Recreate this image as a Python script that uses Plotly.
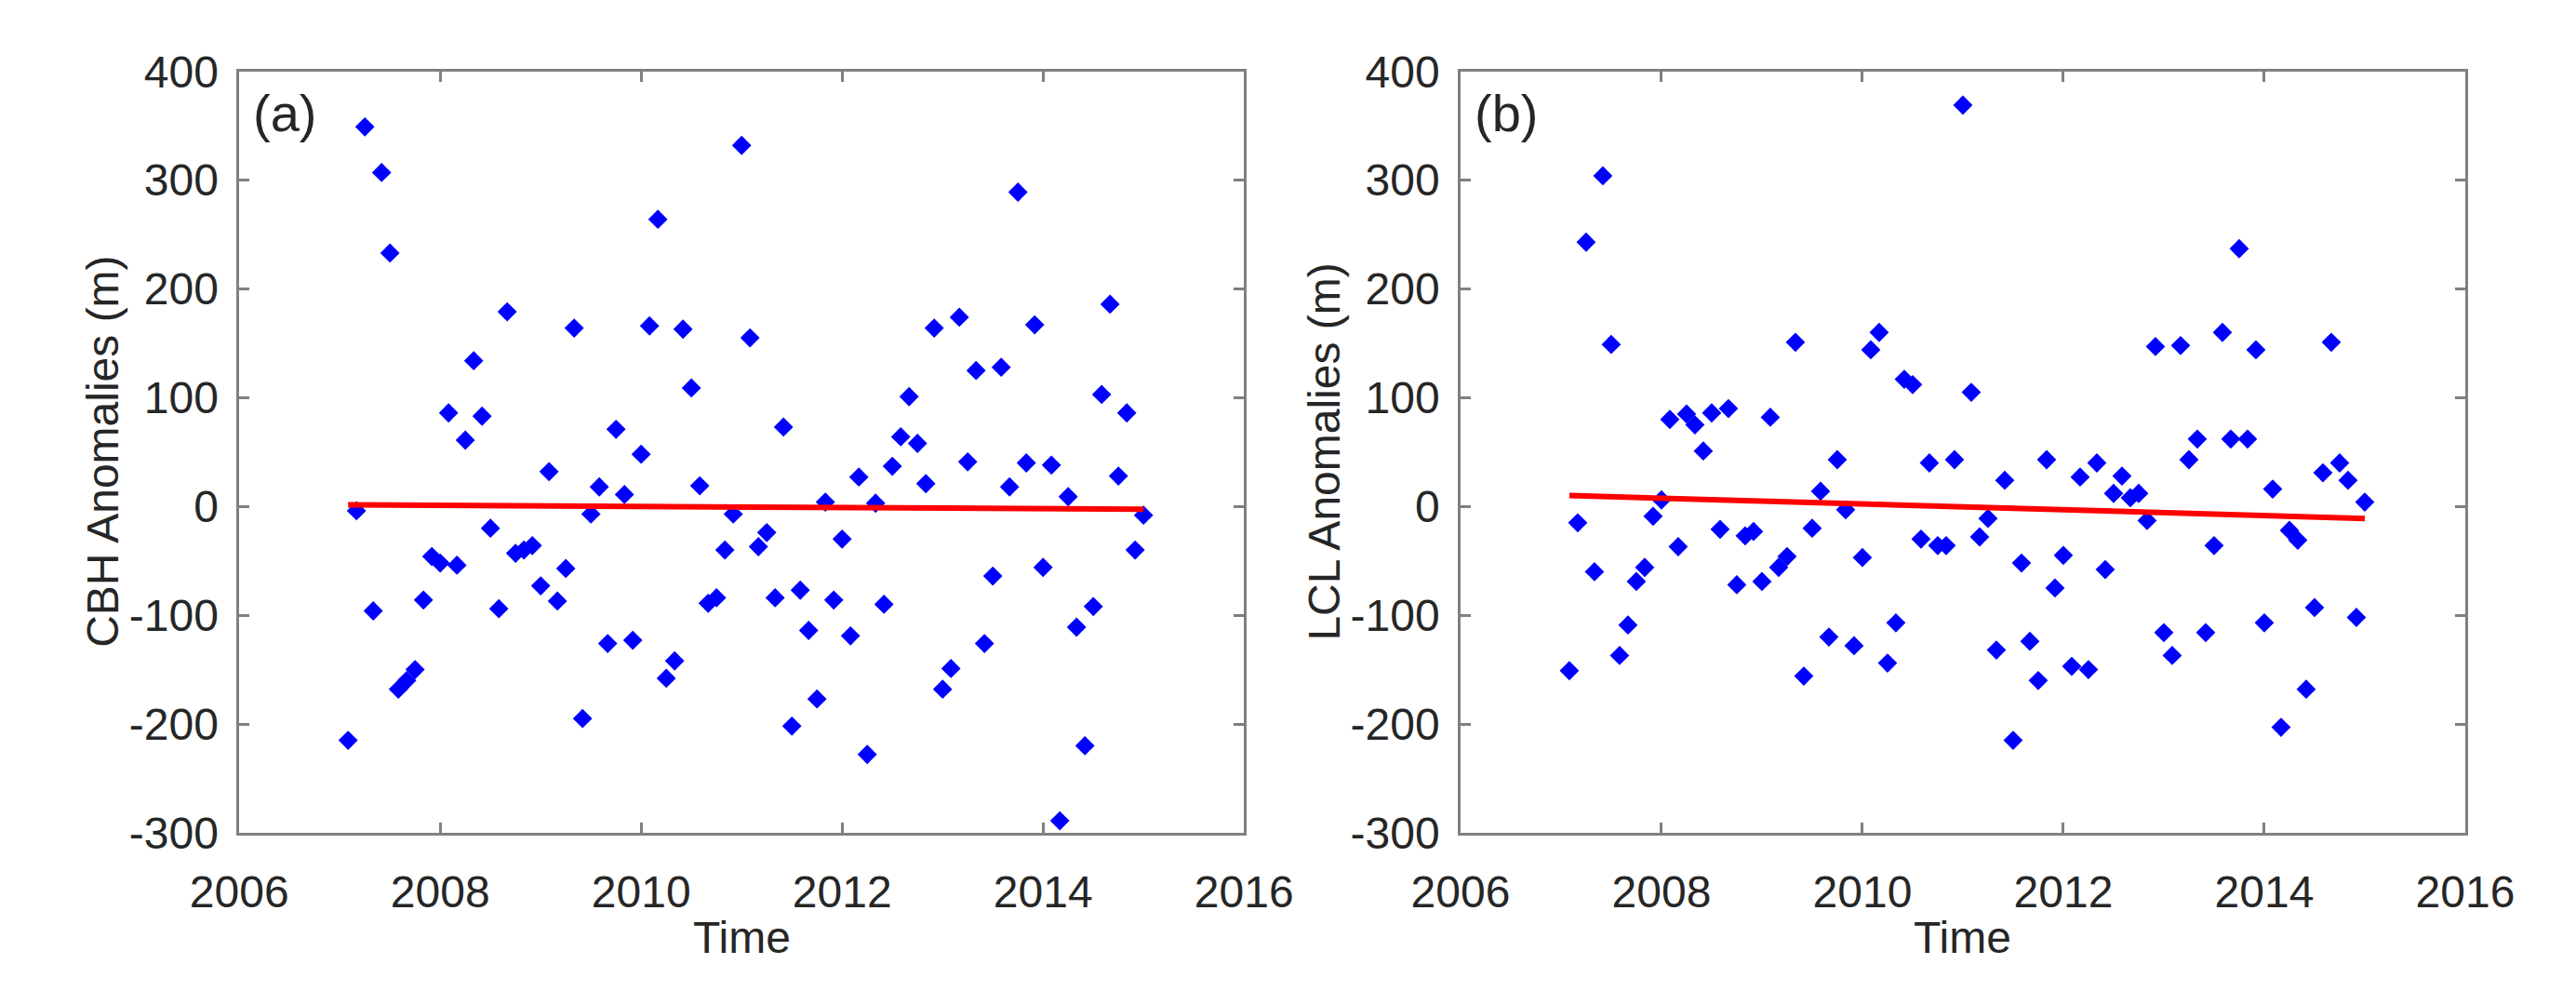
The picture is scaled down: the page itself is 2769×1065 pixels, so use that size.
import plotly.graph_objects as go

# monthly anomalies, Feb 2007 .. Jan 2015 (96 months)
start_year = 2007
n_months = 96
time = [start_year + k / 12 for k in range(1, n_months + 1)]

cbh_anom = [
    -215, -4, 349, -96, 307, 233, -168, -160, -150, -86, -46, -52,
    86, -54, 61, 134, 83, -20, -94, 179, -43, -40, -36, -73,
    32, -87, -57, 164, -195, -7, 18, -126, 71, 11, -123, 48,
    166, 264, -158, -142, 163, 109, 19, -89, -84, -40, -7, 332,
    155, -37, -24, -84, 73, -202, -77, -114, -177, 4, -86, -30,
    -119, 27, -228, 3, -90, 37, 64, 101, 58, 21, 164, -168,
    -149, 174, 41, 125, -126, -64, 128, 18, 289, 40, 167, -56,
    38, -289, 9, -111, -220, -92, 103, 186, 28, 86, -40, -8,
]

lcl_anom = [
    -151, -15, 243, -60, 304, 149, -137, -109, -69, -56, -9, 6,
    80, -37, 85, 75, 51, 86, -21, 90, -72, -27, -23, -69,
    82, -56, -46, 151, -156, -20, 14, -120, 43, -3, -128, -47,
    144, 160, -144, -107, 117, 112, -30, 40, -36, -36, 43, 369,
    105, -28, -11, -132, 24, -215, -52, -124, -160, 43, -75, -45,
    -147, 27, -150, 40, -58, 12, 28, 8, 12, -13, 147, -116,
    -137, 148, 43, 62, -116, -36, 160, 62, 237, 62, 144, -107,
    16, -203, -22, -31, -168, -93, 31, 151, 40, 24, -102, 4,
]

# linear trend lines (start, end)
cbh_trend = [1.5, -2.5]
lcl_trend = [10, -11]

# axis ticks (plain hyphen for negatives, as in the original)
x_ticks = [2006, 2008, 2010, 2012, 2014, 2016]
y_ticks = [-300, -200, -100, 0, 100, 200, 300, 400]
y_ticktext = [str(v) for v in y_ticks]

panel_labels = ["(a)", "(b)"]
y_titles = ["CBH Anomalies (m)", "LCL Anomalies (m)"]
x_title = "Time"

W, H = 2769, 1065
FONT = "Liberation Sans, Arial, sans-serif"
TXT = "#262626"
AX = "#808080"
FS = 48

fig = go.Figure()

series = [(cbh_anom, cbh_trend, "x", "y"), (lcl_anom, lcl_trend, "x2", "y2")]
for vals, trend, xa, ya in series:
    fig.add_trace(go.Scatter(
        x=time, y=vals, mode="markers", xaxis=xa, yaxis=ya,
        marker=dict(symbol="diamond", size=16, color="#0000ff", line=dict(width=0)),
        showlegend=False,
    ))
    fig.add_trace(go.Scatter(
        x=[time[0], time[-1]], y=trend, mode="lines", xaxis=xa, yaxis=ya,
        line=dict(color="#ff0000", width=6),
        showlegend=False,
    ))

x_domains = [[204 / W, 1327 / W], [1569 / W, 2692 / W]]
y_domain = [(H - 906) / H, (H - 45) / H]

def x_axis(dom, anchor):
    return dict(
        domain=dom, anchor=anchor, range=[2006, 2016],
        tickvals=x_ticks, ticktext=[str(v) for v in x_ticks],
        showline=True, mirror="ticks", linecolor=AX, linewidth=2.5,
        ticks="inside", ticklen=11, tickwidth=2.5, tickcolor=AX,
        showgrid=False, zeroline=False,
        tickfont=dict(family=FONT, size=FS, color=TXT),
        ticklabelstandoff=20,
    )

def y_axis(anchor):
    return dict(
        domain=y_domain, anchor=anchor, range=[-300, 400],
        tickvals=y_ticks, ticktext=y_ticktext,
        showline=True, mirror="ticks", linecolor=AX, linewidth=2.5,
        ticks="inside", ticklen=11, tickwidth=2.5, tickcolor=AX,
        showgrid=False, zeroline=False,
        tickfont=dict(family=FONT, size=FS, color=TXT),
        ticklabelstandoff=10,
    )

annotations = []
y_title_x = [52 / W, 1417 / W]
for i, dom in enumerate(x_domains):
    xs = "" if i == 0 else str(i + 1)
    annotations.append(dict(
        text=panel_labels[i], xref=f"x{xs} domain", yref=f"y{xs} domain",
        x=0.012, y=0.945, xanchor="left", yanchor="middle", showarrow=False,
        font=dict(family=FONT, size=56, color=TXT),
    ))
    annotations.append(dict(
        text=x_title, xref="paper", yref="paper",
        x=(dom[0] + dom[1]) / 2, y=(H - 1024) / H,
        xanchor="center", yanchor="middle", showarrow=False,
        font=dict(family=FONT, size=FS, color=TXT),
    ))
    annotations.append(dict(
        text=y_titles[i], xref="paper", yref="paper",
        x=y_title_x[i], y=(y_domain[0] + y_domain[1]) / 2, textangle=-90,
        xanchor="center", yanchor="middle", showarrow=False,
        font=dict(family=FONT, size=FS, color=TXT),
    ))

fig.update_layout(
    width=W, height=H,
    margin=dict(l=0, r=0, t=0, b=0),
    paper_bgcolor="white", plot_bgcolor="white",
    xaxis=x_axis(x_domains[0], "y"),
    yaxis=y_axis("x"),
    xaxis2=x_axis(x_domains[1], "y2"),
    yaxis2=y_axis("x2"),
    annotations=annotations,
)

fig.write_html("out.html")
